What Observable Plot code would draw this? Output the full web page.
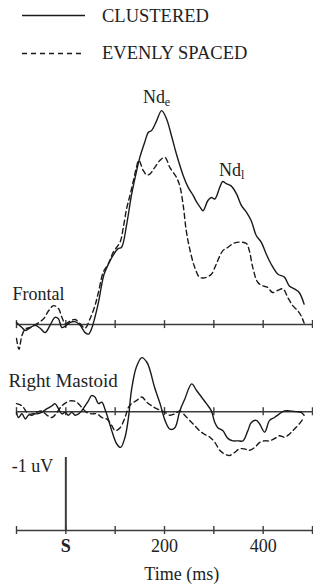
<!DOCTYPE html>
<html><head><meta charset="utf-8">
<script src="https://cdn.jsdelivr.net/npm/d3@7"></script>
<script src="https://cdn.jsdelivr.net/npm/@observablehq/plot@0.6"></script>
<style>
body{margin:0;background:#fff;font-family:"Liberation Serif","Times New Roman",serif;color:#222}
#legend{position:relative;width:313px;height:70px}
#legend span{position:absolute;left:102px;font-size:18.5px;line-height:20px;white-space:nowrap}
#legend svg{position:absolute;left:22px}
</style></head><body>
<div id="legend">
  <svg style="top:13.5px" width="64" height="3"><line x1="0" x2="63" y1="1.5" y2="1.5" stroke="#1a1a1a" stroke-width="1.3"/></svg>
  <span style="top:5.7px">CLUSTERED</span>
  <svg style="top:51.5px" width="64" height="3"><line x1="0" x2="63" y1="1.5" y2="1.5" stroke="#1a1a1a" stroke-width="1.3" stroke-dasharray="5,4"/></svg>
  <span style="top:42.9px">EVENLY SPACED</span>
</div>
<div id="chart"></div>
<script>
// ---- data (time in ms, amplitude in µV; negative plotted up) ----
const conditions = ["CLUSTERED", "EVENLY SPACED"];
const channels = ["Frontal", "Right Mastoid"];

const frontalClusteredMs = [-100,-89,-82,-72,-62,-52,-42,-32,-22,-15,-8,-1,9,19,29,39,46,52,59,66,72,77,83,96,106,113,123,133,143,150,160,167,174,184,194,204,214,224,238,248,258,265,271,278,288,295,302,312,318,325,335,346,356,366,376,386,396,406,416,430,443,453,463,473,483];
const frontalClusteredUv = [-0.03,0.04,0.08,0.04,0.01,0.05,0.11,0.01,-0.10,-0.08,0.04,0.02,-0.03,-0.04,0.01,0.11,0.13,0.06,-0.10,-0.30,-0.52,-0.68,-0.78,-0.95,-1.04,-1.06,-1.36,-1.77,-2.09,-2.29,-2.50,-2.63,-2.66,-2.79,-2.93,-2.82,-2.59,-2.34,-2.04,-1.88,-1.77,-1.68,-1.62,-1.56,-1.70,-1.74,-1.72,-1.88,-1.96,-1.93,-1.90,-1.79,-1.63,-1.54,-1.42,-1.22,-1.13,-0.97,-0.83,-0.69,-0.65,-0.53,-0.49,-0.44,-0.28];

const frontalEvenlyMs = [-100,-95,-89,-82,-72,-59,-45,-35,-25,-15,-8,-1,9,19,29,39,49,59,66,76,86,96,110,116,123,130,137,143,148,157,164,170,180,191,201,211,224,231,238,244,251,261,271,281,295,305,318,329,339,352,366,372,379,389,399,409,419,430,440,450,460,470,477,483];
const frontalEvenlyUv = [0.19,0.34,0.15,0.06,0.04,-0.01,-0.08,-0.19,-0.26,-0.22,-0.10,-0.01,-0.05,-0.07,-0.01,0.05,-0.08,-0.26,-0.44,-0.72,-0.83,-0.99,-1.13,-1.31,-1.58,-1.77,-1.97,-2.15,-2.25,-2.11,-2.05,-2.06,-2.15,-2.25,-2.29,-2.15,-2.02,-1.90,-1.63,-1.29,-1.04,-0.79,-0.65,-0.64,-0.69,-0.83,-1.01,-1.06,-1.11,-1.13,-1.11,-1.01,-0.78,-0.58,-0.53,-0.51,-0.44,-0.47,-0.49,-0.37,-0.26,-0.19,-0.12,-0.02];

const mastoidClusteredMs = [-100,-96,-89,-82,-76,-69,-59,-49,-38,-28,-22,-15,-8,-1,5,12,19,26,32,39,46,52,59,66,73,79,86,93,103,111,120,127,133,143,154,164,170,180,191,201,211,221,231,241,255,265,275,285,295,302,308,318,329,339,349,359,369,376,386,393,403,413,423,433,443,453,467,477,483];
const mastoidClusteredUv = [0.01,0.08,0.03,0.10,0.05,0.03,0.03,0.01,-0.04,-0.08,-0.11,-0.04,0.03,0.01,0.05,0.01,0.05,0.03,-0.01,-0.08,-0.15,-0.22,-0.20,-0.11,-0.13,-0.04,0.10,0.26,0.44,0.49,0.35,0.08,-0.29,-0.61,-0.74,-0.68,-0.58,-0.33,-0.11,0.12,0.24,0.22,-0.01,-0.17,-0.38,-0.29,-0.20,-0.11,-0.01,0.15,0.22,0.26,0.37,0.40,0.40,0.40,0.26,0.15,0.12,0.17,0.28,0.12,0.08,0.03,-0.01,-0.01,0.00,0.01,0.05];

const mastoidEvenlyMs = [-100,-89,-79,-69,-59,-49,-38,-28,-18,-8,2,12,22,32,42,52,63,73,83,93,100,110,120,127,133,143,154,164,174,184,194,201,211,221,231,241,251,261,271,281,292,302,312,322,332,342,352,362,372,383,393,403,413,423,433,443,453,463,473,483];
const mastoidEvenlyUv = [-0.11,-0.08,0.01,0.05,0.01,-0.01,0.05,0.08,0.01,-0.08,-0.13,-0.15,-0.13,-0.06,0.01,0.03,0.03,0.08,0.10,0.19,0.26,0.22,0.08,-0.06,-0.11,-0.15,-0.20,-0.13,-0.08,-0.04,-0.01,0.01,0.05,0.03,-0.01,0.05,0.12,0.19,0.26,0.31,0.35,0.42,0.53,0.58,0.60,0.56,0.51,0.51,0.53,0.49,0.42,0.40,0.40,0.37,0.33,0.35,0.31,0.24,0.17,0.08];

const timeTicks = [-100, 0, 100, 200, 300, 400, 500];
const timeTickLabels = [0, 200, 400];
const peakSubscripts = ["e", "l"];
const peakLatencies = [194, 318];

// ---- layout (not data) ----
const channelOffset = {"Frontal": 0, "Right Mastoid": 1.192};
const axisOffset = 2.82;
const yDomain = [-3.48, 2.82];
const H = 516, MB = 56;
const pxPerUv = (H - MB) / (yDomain[1] - yDomain[0]);
const tickHalf = 4 / pxPerUv;

function rows(channel, condition, ms, uv) {
  return ms.map((t, i) => ({channel, condition, ms: t, uv: uv[i]}));
}
const data = [
  ...rows("Frontal", "CLUSTERED", frontalClusteredMs, frontalClusteredUv),
  ...rows("Frontal", "EVENLY SPACED", frontalEvenlyMs, frontalEvenlyUv),
  ...rows("Right Mastoid", "CLUSTERED", mastoidClusteredMs, mastoidClusteredUv),
  ...rows("Right Mastoid", "EVENLY SPACED", mastoidEvenlyMs, mastoidEvenlyUv)
];
const Y = d => d.uv + channelOffset[d.channel];

const baselines = [channelOffset["Frontal"], channelOffset["Right Mastoid"], axisOffset];
const tickRows = baselines.flatMap(b => timeTicks.map(t => ({ms: t, base: b})));

const frontalClustered = data.filter(d => d.channel === "Frontal" && d.condition === "CLUSTERED");
const peaks = peakLatencies.map((lat, i) => {
  const p = frontalClustered.reduce((a, b) => Math.abs(b.ms - lat) < Math.abs(a.ms - lat) ? b : a);
  return {ms: p.ms, y: Y(p), sub: peakSubscripts[i]};
});
const peakShift = [[-5, -13], [9, -11]];

const ink = "#1a1a1a", axisInk = "#3c3c3c";

const plot = Plot.plot({
  width: 313, height: H,
  marginTop: 0, marginBottom: MB, marginLeft: 16, marginRight: 1,
  x: {domain: [-100, 500]},
  y: {domain: yDomain, reverse: true, axis: null},
  style: {fontFamily: "Liberation Serif, Times New Roman, serif", fontSize: "18px", color: "#222", background: "white", overflow: "visible"},
  marks: [
    Plot.ruleY(baselines, {y: d => d, x1: -100, x2: 500, stroke: axisInk, strokeWidth: 1.5}),
    Plot.ruleX(tickRows, {x: "ms", y1: d => d.base - tickHalf, y2: d => d.base + tickHalf, stroke: axisInk, strokeWidth: 1.4}),
    Plot.ruleX([0], {x: d => d, y1: axisOffset, y2: axisOffset - 1, stroke: axisInk, strokeWidth: 2}),
    Plot.text(["-1 uV"], {x: 0, y: axisOffset - 1, text: d => d, textAnchor: "end", dx: -12.7, dy: 9, lineAnchor: "middle", fill: "#222"}),
    Plot.line(data.filter(d => d.condition === "CLUSTERED"), {x: "ms", y: Y, z: "channel", stroke: ink, strokeWidth: 1.4, curve: "catmull-rom"}),
    Plot.line(data.filter(d => d.condition === "EVENLY SPACED"), {x: "ms", y: Y, z: "channel", stroke: ink, strokeWidth: 1.4, strokeDasharray: "5,3.5", curve: "catmull-rom"}),
    Plot.text([channels[0]], {x: -100, y: channelOffset[channels[0]], text: d => d, textAnchor: "start", dx: -4, dy: -30.5, lineAnchor: "middle", fill: "#222"}),
    Plot.text([channels[1]], {x: -100, y: channelOffset[channels[1]], text: d => d, textAnchor: "start", dx: -8, dy: -31, lineAnchor: "middle", fill: "#222", fontSize: 19}),
    ...peaks.map((p, i) => Plot.text([p], {x: "ms", y: "y", text: d => "Nd", textAnchor: "middle", dx: peakShift[i][0], dy: peakShift[i][1], lineAnchor: "middle", fill: "#222"})),
    Plot.axisX({ticks: timeTickLabels, tickSize: 0, tickPadding: 9, tickFormat: d => d === 0 ? "S" : String(d), label: null, fill: "#222"}),
    Plot.text(["Time (ms)"], {x: 235, frameAnchor: "bottom", text: d => d, dy: 44, lineAnchor: "middle", fill: "#222"})
  ]
});

const svg = d3.select(plot);
svg.selectAll("text").filter(function() { return this.textContent === "S"; }).attr("font-weight", "bold");
let k = 0;
svg.selectAll("text").filter(function() { return this.textContent === "Nd"; }).each(function() {
  d3.select(this).append("tspan").attr("font-size", "12px").attr("dy", "3").text(peaks[k++].sub);
});
document.getElementById("chart").appendChild(plot);
</script>
</body></html>
